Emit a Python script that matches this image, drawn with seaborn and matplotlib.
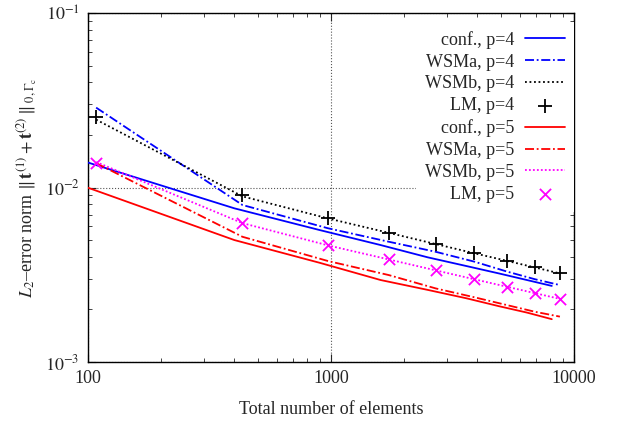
import matplotlib

matplotlib.use("Agg", force=True)
import matplotlib.pyplot as plt
import pandas as pd
import seaborn as sns
from matplotlib.ticker import LogLocator, NullFormatter

# element counts: conforming meshes vs. non-conforming (mortar) meshes
N_CONF = [100, 400, 900, 1600, 2500, 3600, 4900, 6400, 8100]
N_NC = [108, 432, 972, 1728, 2700, 3888, 5292, 6912, 8748]

CONF_P4 = [0.0139, 0.0076, 0.0057, 0.00468, 0.00398, 0.00355, 0.00322, 0.00295, 0.00273]
WSMA_P4 = [0.0287, 0.00794, 0.00584, 0.00489, 0.00428, 0.00376, 0.0033, 0.00298, 0.00276]
WSMB_P4 = [0.0245, 0.0089, 0.00665, 0.0055, 0.00474, 0.0042, 0.0038, 0.00348, 0.00322]
LM_P4 = [0.0252, 0.00906, 0.00668, 0.00551, 0.00474, 0.0042, 0.00381, 0.00349, 0.00322]

CONF_P5 = [0.00997, 0.0050, 0.0037, 0.00295, 0.00259, 0.00232, 0.00209, 0.00192, 0.00176]
WSMA_P5 = [0.0138, 0.00522, 0.00379, 0.00315, 0.00264, 0.00235, 0.00212, 0.00194, 0.00182]
WSMB_P5 = [0.0140, 0.00625, 0.00466, 0.00387, 0.00335, 0.00298, 0.0027, 0.00248, 0.0023]
LM_P5 = [0.01387, 0.00628, 0.00468, 0.00388, 0.00336, 0.00299, 0.0027, 0.00248, 0.0023]

LINES = [
    ("conf., p=4", N_CONF, CONF_P4, "#0000ff", "-"),
    ("WSMa, p=4", N_NC, WSMA_P4, "#0000ff", (0, (5, 1.5, 1, 1.5))),
    ("WSMb, p=4", N_NC, WSMB_P4, "#000000", (0, (1, 1.5))),
    ("LM, p=4", N_NC, LM_P4, "#000000", "+"),
    ("conf., p=5", N_CONF, CONF_P5, "#ff0000", "-"),
    ("WSMa, p=5", N_NC, WSMA_P5, "#ff0000", (0, (5, 1.5, 1, 1.5))),
    ("WSMb, p=5", N_NC, WSMB_P5, "#ff00ff", (0, (1, 1.2))),
    ("LM, p=5", N_NC, LM_P5, "#ff00ff", "x"),
]


def set_style() -> None:
    sns.set_style("ticks")
    plt.rcParams["font.family"] = ["Liberation Serif", "DejaVu Serif"]
    plt.rcParams["mathtext.fontset"] = "stix"
    plt.rcParams["xtick.direction"] = "in"
    plt.rcParams["ytick.direction"] = "in"
    plt.rcParams["xtick.top"] = True
    plt.rcParams["ytick.right"] = True
    plt.rcParams["axes.edgecolor"] = "black"
    plt.rcParams["axes.linewidth"] = 1.0


def main() -> None:
    set_style()
    fig = plt.figure(figsize=(6.31, 4.24), dpi=100)
    ax = fig.add_axes([0.1395, 0.1462, 0.7702, 0.8231])

    for label, xs, ys, color, style in LINES:
        df = pd.DataFrame({"n": xs, "err": ys})
        if style in ("+", "x"):
            sns.scatterplot(
                data=df, x="n", y="err", marker=style,
                s=90 if style == "+" else 65, color=color,
                linewidth=1.3, label=label, ax=ax, zorder=4,
            )
        else:
            sns.lineplot(
                data=df, x="n", y="err", color=color, linestyle=style,
                linewidth=1.3, label=label, ax=ax, zorder=3,
            )

    ax.set_xscale("log")
    ax.set_yscale("log")
    ax.set_xlim(100, 10000)
    ax.set_ylim(1e-3, 1e-1)
    ax.xaxis.set_minor_locator(LogLocator(base=10, subs=range(2, 10)))
    ax.yaxis.set_minor_locator(LogLocator(base=10, subs=range(2, 10)))
    ax.xaxis.set_minor_formatter(NullFormatter())
    ax.yaxis.set_minor_formatter(NullFormatter())
    ax.set_xticks([100, 1000, 10000])
    ax.set_xticklabels(["100", "1000", "10000"])
    ax.set_yticks([1e-3, 1e-2, 1e-1])
    ax.set_yticklabels([r"$10^{-3}$", r"$10^{-2}$", r"$10^{-1}$"])
    ax.tick_params(which="major", length=6, width=0.8, labelsize=13, pad=6)
    ax.tick_params(which="minor", length=3, width=0.6)
    ax.grid(which="major", linestyle=":", color="#555555", linewidth=0.8)

    ax.set_xlabel("Total number of elements", fontsize=13, labelpad=10)
    ax.set_ylabel(
        r"$L_2$–error norm $\|\,\mathbf{t}^{(1)}+\mathbf{t}^{(2)}\,\|_{\ 0,\Gamma_{\mathrm{c}}}$",
        fontsize=13, labelpad=4,
    )

    handles, labels = ax.get_legend_handles_labels()
    leg = ax.legend(
        handles, labels, loc="upper right", bbox_to_anchor=(1.0, 0.975),
        markerfirst=False, frameon=True, fancybox=False, framealpha=1.0,
        edgecolor="none", facecolor="white", fontsize=13, handlelength=2.2,
        handletextpad=0.6, labelspacing=0.27, borderpad=0.5, borderaxespad=0.0,
    )
    leg.set_zorder(5)

    fig.savefig("out.png", dpi=100)
    plt.close(fig)


if __name__ == "__main__":
    main()
